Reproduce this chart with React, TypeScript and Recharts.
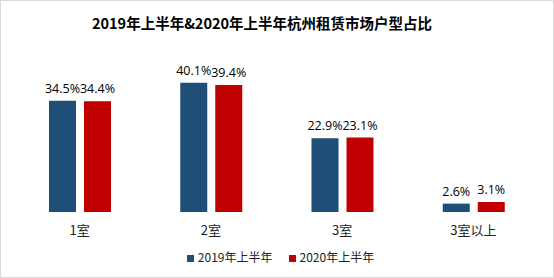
import { BarChart, Bar, XAxis, YAxis, Legend, LabelList } from "recharts";

const categories = ["1室", "2室", "3室", "3室以上"];
const h1_2019 = [34.5, 40.1, 22.9, 2.6];
const h1_2020 = [34.4, 39.4, 23.1, 3.1];
const seriesNames = ["2019年上半年", "2020年上半年"];

const data = categories.map((c, i) => ({ name: c, a: h1_2019[i], b: h1_2020[i] }));

const font = '"Noto Sans CJK SC", "Noto Sans", sans-serif';
const labelFont = '"Open Sans", "Noto Sans", sans-serif';

export default function App() {
  return (
    <div
      style={{
        position: "absolute",
        left: 0,
        top: 0,
        width: 554,
        height: 278,
        background: "#fff",
        boxSizing: "border-box",
        border: "1px solid #d9d9d9",
        fontFamily: font,
      }}
    >
      <div
        style={{
          position: "absolute",
          left: 0,
          top: 12,
          width: 522,
          textAlign: "center",
          fontSize: 14.5,
          fontWeight: "bold",
          color: "#000",
          lineHeight: "20px",
        }}
      >
        2019年上半年&2020年上半年杭州租赁市场户型占比
      </div>
      <div style={{ position: "absolute", left: -1, top: -1 }}>
        <BarChart
          width={554}
          height={278}
          data={data}
          margin={{ top: 67, right: 15, bottom: 19, left: 14 }}
          barSize={27}
          barGap={8}
        >
          <XAxis
            dataKey="name"
            axisLine={false}
            tickLine={false}
            height={30}
            tick={{ fill: "#222", fontSize: 13, fontFamily: font }}
            tickMargin={8}
          />
          <YAxis hide domain={[0, 45]} />
          <Legend
            verticalAlign="bottom"
            align="center"
            iconType="square"
            iconSize={7}
            wrapperStyle={{ fontSize: 12, fontFamily: font, bottom: 13, paddingLeft: 12 }}
            formatter={(v) => <span style={{ color: "#222", marginRight: 6 }}>{v}</span>}
          />
          <Bar dataKey="a" name={seriesNames[0]} fill="#1F4E79" isAnimationActive={false}>
            <LabelList
              dataKey="a"
              position="top"
              offset={8}
              formatter={(v: number) => `${v}%`}
              style={{ fill: "#000", fontSize: 12.5, fontFamily: labelFont }}
            />
          </Bar>
          <Bar dataKey="b" name={seriesNames[1]} fill="#C00000" isAnimationActive={false}>
            <LabelList
              dataKey="b"
              position="top"
              offset={8}
              formatter={(v: number) => `${v}%`}
              style={{ fill: "#000", fontSize: 12.5, fontFamily: labelFont }}
            />
          </Bar>
        </BarChart>
      </div>
    </div>
  );
}
